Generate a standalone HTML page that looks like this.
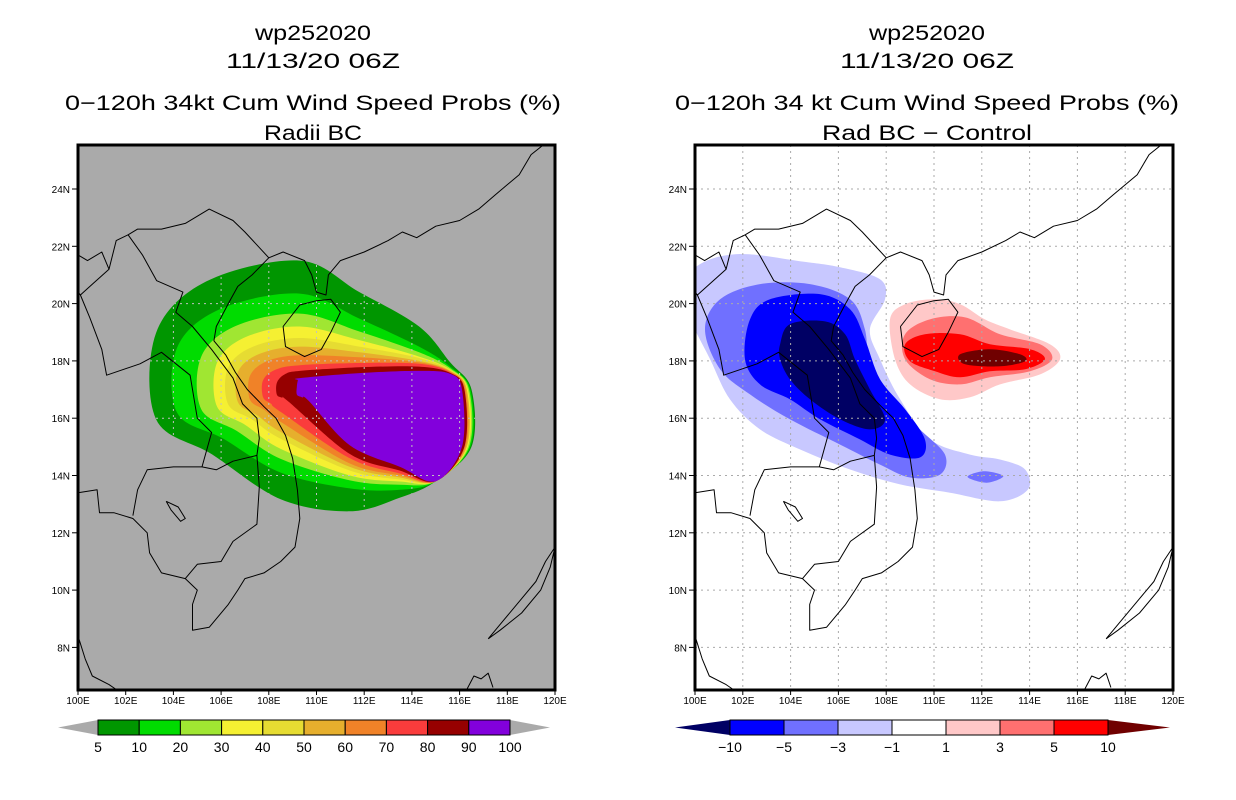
<!DOCTYPE html>
<html><head><meta charset="utf-8"><style>
html,body{margin:0;padding:0;background:#fff;}
svg{display:block;font-family:"Liberation Sans",sans-serif;}
</style></head><body>
<svg id="chart" width="1236" height="800" viewBox="0 0 1236 800" xmlns="http://www.w3.org/2000/svg">
<g id="root"></g>
</svg>
<script>
// ---------- DATA ----------
const leftLevels = [5,10,20,30,40,50,60,70,80,90];
const leftColors = ["#009600","#00dc00","#a0e632","#f5f032","#e6dc32","#e6af2d","#f08228","#fa3c3c","#960000","#8200dc"];
const colorbarLeftLabels = ["5","10","20","30","40","50","60","70","80","90","100"];
const westLon   = [103.27,104.15,105.16,105.83,106.29,106.71,107.21,107.76,108.34,109.18];
const northLat  = [21.5,20.35,19.65,19.2,18.8,18.5,18.2,17.85,17.65,17.4];
const neLat     = [19.2,18.5,18.3,18.15,18.1,18.0,17.95,17.9,17.8,17.65];
const ncLat     = [17.95,17.8,17.75,17.7,17.68,17.65,17.63,17.6,17.58,17.55];
const eastLon   = [116.5,116.45,116.4,116.35,116.3,116.3,116.25,116.2,116.2,116.1];
const seLat     = [13.23,13.5,13.68,13.79,13.86,13.93,14.0,14.07,14.17,14.3];
const southLat  = [12.75,13.55,13.83,14.0,14.17,14.3,14.42,14.6,14.75,15.05];
const swLat     = [13.17,14.1,14.58,14.93,15.28,15.52,15.87,16.22,16.57,16.6];

const diffColors = {n10:"#000064",n5:"#0000ff",n3:"#7070ff",n1:"#c8c8ff",p1:"#ffc8c8",p3:"#ff7070",p5:"#ff0000",p10:"#700000"};
const diffLight = [[99.37,20.5],[100.21,21.38],[101.88,21.73],[104.39,21.48],[106.07,21.27],[107.74,20.85],[107.95,20.15],[107.32,19.1],[107.74,18.06],[108.58,16.66],[109.83,15.26],[111.51,14.73],[112.76,14.56],[113.81,14.21],[113.93,13.51],[112.76,13.1],[110.67,13.4],[108.58,13.69],[106.49,14.21],[104.39,14.91],[102.72,15.61],[101.46,16.66],[100.63,18.06],[99.79,19.45]];
const diffMed = [[100.42,19.1],[101.05,20.15],[102.72,20.68],[104.81,20.68],[106.49,20.15],[107.11,19.1],[107.32,17.71],[108.16,16.66],[109.41,15.61],[110.46,14.73],[110.25,14.03],[109.0,13.93],[107.74,14.38],[106.07,15.08],[103.97,15.96],[102.3,16.83],[101.05,17.71]];
const diffMedBlob = [[111.4,13.95],[112.1,14.15],[112.9,13.98],[112.2,13.75]];
const diffBlue = [[102.3,19.45],[103.14,20.15],[105.23,20.33],[106.49,19.8],[107.11,18.76],[107.74,17.36],[108.79,16.31],[109.62,15.26],[109.41,14.63],[108.16,14.73],[106.9,15.26],[105.23,15.96],[103.97,16.66],[102.72,17.18],[102.09,18.06]];
const diffNavy = [[103.56,18.58],[103.97,19.28],[105.44,19.38],[106.28,18.93],[106.69,18.06],[107.32,17.0],[107.95,15.96],[107.32,15.61],[106.07,15.96],[104.81,16.66],[103.97,17.36],[103.56,18.06]];
const diffPink = [[108.16,19.45],[108.79,19.98],[110.04,20.15],[111.09,19.98],[112.13,19.45],[113.18,19.1],[114.85,18.58],[115.27,18.06],[114.44,17.53],[112.76,17.18],[111.51,16.73],[110.25,16.66],[109.0,17.18],[108.37,18.06]];
const diffSalmon = [[108.79,18.93],[109.83,19.45],[111.3,19.52],[112.76,18.93],[114.44,18.58],[114.94,18.06],[114.02,17.64],[112.34,17.43],[111.09,17.18],[109.83,17.36],[108.79,18.06]];
const diffRed = [[108.79,18.58],[109.62,18.93],[111.09,18.93],[112.34,18.58],[114.02,18.41],[114.64,18.06],[113.81,17.71],[112.34,17.64],[111.09,17.43],[110.04,17.64],[109.0,17.99]];
const diffDark = [[111.09,18.23],[112.34,18.41],[113.6,18.23],[113.81,17.99],[112.76,17.81],[111.3,17.88]];
const colorbarRightLabels = ["−10","−5","−3","−1","1","3","5","10"];

const lonTicks = [100,102,104,106,108,110,112,114,116,118,120];
const latTicks = [8,10,12,14,16,18,20,22,24];

const coastChina = [[108.0,21.6],[108.6,21.8],[109.5,21.5],[109.8,21.0],[110.0,20.4],[110.4,20.3],[110.5,21.0],[111.0,21.5],[112.0,21.8],[113.0,22.2],[113.6,22.5],[114.2,22.3],[115.0,22.7],[116.0,22.9],[116.8,23.3],[117.5,23.8],[118.5,24.5],[119.0,25.2],[119.6,25.6]];
const coastHainan = [[108.6,19.2],[108.7,18.5],[109.5,18.15],[110.2,18.4],[110.6,19.0],[111.0,19.7],[110.6,20.15],[110.0,20.1],[109.3,19.95],[108.6,19.2]];
const coastVietnam = [[108.0,21.6],[107.3,21.0],[106.7,20.6],[106.3,20.0],[105.8,19.2],[105.7,18.7],[106.2,18.2],[106.6,17.6],[107.1,17.0],[107.8,16.4],[108.3,16.0],[108.7,15.4],[109.0,14.6],[109.2,13.5],[109.3,12.5],[109.1,11.5],[108.5,11.0],[107.8,10.6],[107.0,10.4],[106.7,10.0],[106.3,9.5],[105.5,8.7],[104.8,8.6],[104.8,9.5],[105.0,10.0],[104.5,10.4],[103.5,10.6],[103.0,11.3],[102.9,12.0],[102.3,12.5],[101.5,12.7],[100.9,12.7],[100.8,13.5],[100.0,13.4]];
const bordersLand = [
 [[108.0,21.6],[107.0,22.5],[106.5,22.9],[105.5,23.3],[104.5,22.8],[103.5,22.6],[102.5,22.6],[102.1,22.4]],
 [[102.1,22.4],[101.6,22.2],[101.3,21.2],[100.5,20.6],[100.1,20.3],[100.0,20.4]],
 [[102.1,22.4],[102.7,21.7],[103.3,20.8],[104.4,20.4],[104.1,19.7],[104.8,19.2],[105.6,18.4],[106.5,17.4],[106.9,16.5],[107.5,16.0],[107.6,15.3],[107.5,14.7]],
 [[107.5,14.7],[107.6,13.6],[107.5,12.3],[106.5,11.7],[106.0,11.0],[105.0,10.9],[104.5,10.4]],
 [[107.5,14.7],[106.5,14.5],[105.8,14.2],[105.2,14.3]],
 [[105.2,14.3],[104.0,14.3],[102.9,14.2],[102.5,13.5],[102.3,12.6]],
 [[105.2,14.3],[105.6,15.5],[105.0,16.0],[104.7,17.5],[103.5,18.3],[102.6,17.9],[101.2,17.5],[101.0,18.4],[100.5,19.5],[100.1,20.3]],
 [[100.0,21.7],[100.4,21.5],[101.0,21.8],[101.3,21.2]]
];
const lakeTonle = [[103.7,13.1],[104.2,12.9],[104.5,12.5],[104.3,12.4],[103.9,12.8],[103.7,13.1]];
const coastMalay = [[100.0,8.4],[100.3,7.6],[100.6,7.0],[101.3,6.7],[101.6,6.53]];
const coastPalawan = [[117.2,8.3],[117.8,8.9],[118.6,9.7],[119.2,10.3],[119.6,11.0],[120.0,11.5],[119.8,10.8],[119.4,10.0],[118.6,9.2],[117.7,8.6],[117.2,8.3]];
const coastBorneo = [[116.3,6.53],[116.6,7.0],[116.9,6.9],[117.2,7.1],[117.4,6.6]];

// ---------- LAYOUT ----------
const panels = [{x0:78,x1:555,name:"left"},{x0:695,x1:1173,name:"right"}];
const yTop=145, yBot=690;
function xs(p,lon){return p.x0+(lon-100)*(p.x1-p.x0)/20;}
function ys(lat){return 189+(24-lat)*28.65;}
const NS="http://www.w3.org/2000/svg";
const root=document.getElementById('root');
function mk(tag,attrs,parent){const e=document.createElementNS(NS,tag);for(const k in attrs)e.setAttribute(k,attrs[k]);(parent||root).appendChild(e);return e;}
function pts(p,arr){return arr.map(a=>xs(p,a[0]).toFixed(1)+","+ys(a[1]).toFixed(1)).join(" ");}
function smoothPath(p,arr){
  const P=arr.map(a=>[xs(p,a[0]),ys(a[1])]);const n=P.length;
  let d="M"+P[0][0].toFixed(1)+","+P[0][1].toFixed(1);
  for(let i=0;i<n;i++){
    const p0=P[(i-1+n)%n],p1=P[i],p2=P[(i+1)%n],p3=P[(i+2)%n];
    const c1=[p1[0]+(p2[0]-p0[0])/6,p1[1]+(p2[1]-p0[1])/6];
    const c2=[p2[0]-(p3[0]-p1[0])/6,p2[1]-(p3[1]-p1[1])/6];
    d+=" C"+c1[0].toFixed(1)+","+c1[1].toFixed(1)+" "+c2[0].toFixed(1)+","+c2[1].toFixed(1)+" "+p2[0].toFixed(1)+","+p2[1].toFixed(1);
  }
  return d+"Z";
}

const defs=mk('defs',{});
panels.forEach(p=>{
  const cp=mk('clipPath',{id:'clip-'+p.name},defs);
  mk('rect',{x:p.x0,y:yTop,width:p.x1-p.x0,height:yBot-yTop},cp);
});

function levelPoly(k){
  const W=westLon[k],N=northLat[k],S=southLat[k],SW=swLat[k];
  const swLon=Math.max(108.5,W+0.5);
  return [
    [W,16.9+0.45*(N-16.9)],
    [W+0.35*(109.3-W),N-0.45*(N-16.9)*0.35],
    [109.3,N],[111.8,(N+neLat[k])/2+0.05],[114.3,neLat[k]],[115.6,ncLat[k]],
    [eastLon[k],17.0],[eastLon[k],15.0],[115.0,13.8],[113.5,seLat[k]],
    [111.4,S],[swLon,SW],
    [W+0.45*(swLon-W),(16.9+SW)/2-0.08*(16.9-SW)],
    [W,16.9-0.25*(16.9-SW)]
  ];
}

// ---------- LEFT PANEL ----------
(function(){
  const p=panels[0];
  const g=mk('g',{'clip-path':'url(#clip-left)'});
  
  
  const bg=mk('rect',{x:p.x0,y:yTop,width:p.x1-p.x0,height:yBot-yTop,fill:'#aaaaaa'},g);
  
  
  leftLevels.forEach((lv,k)=>{
    const poly=mk('path',{d:smoothPath(p,levelPoly(k)),fill:leftColors[k]},g);
    
    
  });
  const cp=mk('clipPath',{id:'clip-shade'},defs);
  mk('path',{d:smoothPath(p,levelPoly(0))},cp);
  const gg=mk('g',{'clip-path':'url(#clip-shade)',stroke:'#c0c0c0','stroke-width':1,'stroke-dasharray':'2,4'},g);
  
  
  lonTicks.forEach(l=>mk('line',{x1:xs(p,l),x2:xs(p,l),y1:yTop,y2:yBot},gg));
  latTicks.forEach(l=>mk('line',{x1:p.x0,x2:p.x1,y1:ys(l),y2:ys(l)},gg));
  drawCoasts(p,g);
})();

// ---------- RIGHT PANEL ----------
(function(){
  const p=panels[1];
  const g=mk('g',{'clip-path':'url(#clip-right)'});
  
  
  mk('rect',{x:p.x0,y:yTop,width:p.x1-p.x0,height:yBot-yTop,fill:'#ffffff'},g);
  const layers=[[diffLight,'n1','diff-fill-minus1'],[diffMed,'n3','diff-fill-minus3'],[diffMedBlob,'n3','diff-fill-minus3-small'],[diffBlue,'n5','diff-fill-minus5'],[diffNavy,'n10','diff-fill-minus10'],
    [diffPink,'p1','diff-fill-plus1'],[diffSalmon,'p3','diff-fill-plus3'],[diffRed,'p5','diff-fill-plus5'],[diffDark,'p10','diff-fill-plus10']];
  layers.forEach(L=>{
    const poly=mk('path',{d:smoothPath(p,L[0]),fill:diffColors[L[1]]},g);
    
    
  });
  const gg=mk('g',{stroke:'#aaaaaa','stroke-width':1,'stroke-dasharray':'2,4'},g);
  
  
  lonTicks.forEach(l=>mk('line',{x1:xs(p,l),x2:xs(p,l),y1:yTop,y2:yBot},gg));
  latTicks.forEach(l=>mk('line',{x1:p.x0,x2:p.x1,y1:ys(l),y2:ys(l)},gg));
  drawCoasts(p,g);
})();

function drawCoasts(p,g){
  const cg=mk('g',{fill:'none',stroke:'#000','stroke-width':1,'stroke-linejoin':'round'},g);
  
  
  [coastChina,coastHainan,coastVietnam,lakeTonle,coastMalay,coastPalawan,coastBorneo].forEach(c=>mk('polyline',{points:pts(p,c)},cg));
  bordersLand.forEach(c=>mk('polyline',{points:pts(p,c)},cg));
}

// ---------- FRAMES, TICKS, LABELS ----------
panels.forEach(p=>{
  const fr=mk('rect',{x:p.x0,y:yTop,width:p.x1-p.x0,height:yBot-yTop,fill:'none',stroke:'#000','stroke-width':3});
  
  
  lonTicks.forEach(l=>{
    const x=xs(p,l);
    mk('line',{x1:x,x2:x,y1:yBot,y2:yBot+5,stroke:'#000','stroke-width':1});
    const t=mk('text',{x:x,y:yBot+14,'font-size':10,'text-anchor':'middle',fill:'#000'});
    t.textContent=l+'E';
    
    
  });
  latTicks.forEach(l=>{
    const y=ys(l);
    mk('line',{x1:p.x0-6,x2:p.x0,y1:y,y2:y,stroke:'#000','stroke-width':1});
    const t=mk('text',{x:p.x0-8,y:y+4,'font-size':10,'text-anchor':'end',fill:'#000'});
    t.textContent=l+'N';
    
    
  });
});

// ---------- TITLES ----------
const titles=[
 {cx:313,lines:[["wp252020",40,116],["11/13/20 06Z",68,174],["0−120h 34kt Cum Wind Speed Probs (%)",110,496],["Radii BC",140,98]]},
 {cx:927,lines:[["wp252020",40,116],["11/13/20 06Z",68,174],["0−120h 34 kt Cum Wind Speed Probs (%)",110,504],["Rad BC − Control",140,210]]}
];
titles.forEach((T,i)=>{
  T.lines.forEach((L,j)=>{
    const t=mk('text',{x:T.cx,y:L[1],'font-size':21,'text-anchor':'middle',fill:'#000',textLength:L[2],lengthAdjust:'spacingAndGlyphs'});
    t.textContent=L[0];
    
    
  });
});

// ---------- COLORBARS ----------
(function(){
  const x0=98,x1=510,y0=720,y1=735,n=leftColors.length,w=(x1-x0)/n;
  const cb=mk('g',{});
  
  
  mk('polygon',{points:`${x0},${y0} ${x0},${y1} 58,727.5`,fill:'#aaaaaa'},cb);
  mk('polygon',{points:`${x1},${y0} ${x1},${y1} 550,727.5`,fill:'#aaaaaa'},cb);
  leftColors.forEach((c,k)=>{
    const r=mk('rect',{x:x0+k*w,y:y0,width:w,height:y1-y0,fill:c,stroke:'#000','stroke-width':1},cb);
    
    
  });
  colorbarLeftLabels.forEach((s,k)=>{
    const t=mk('text',{x:x0+k*w,y:752,'font-size':14,'text-anchor':'middle',fill:'#000'},cb);
    t.textContent=s;
    
    
  });
})();
(function(){
  const cols=[diffColors.n5,diffColors.n3,diffColors.n1,'#ffffff',diffColors.p1,diffColors.p3,diffColors.p5];
  const x0=730,x1=1108,y0=720,y1=735,w=(x1-x0)/cols.length;
  const cb=mk('g',{});
  
  
  mk('polygon',{points:`${x0},${y0} ${x0},${y1} 675,727.5`,fill:diffColors.n10},cb);
  mk('polygon',{points:`${x1},${y0} ${x1},${y1} 1170,727.5`,fill:diffColors.p10},cb);
  cols.forEach((c,k)=>{
    const r=mk('rect',{x:x0+k*w,y:y0,width:w,height:y1-y0,fill:c,stroke:'#000','stroke-width':1},cb);
    
    
  });
  colorbarRightLabels.forEach((s,k)=>{
    const t=mk('text',{x:x0+k*w,y:752,'font-size':14,'text-anchor':'middle',fill:'#000'},cb);
    t.textContent=s;
    
    
  });
})();
</script>
</body></html>
